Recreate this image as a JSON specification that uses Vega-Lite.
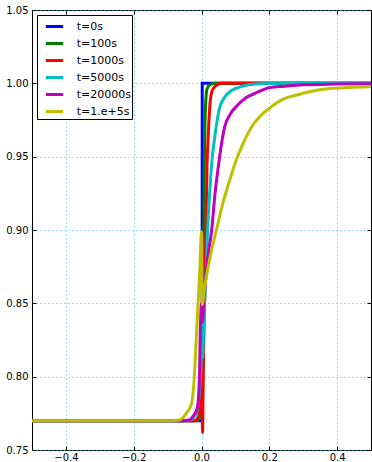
{
  "$schema": "https://vega.github.io/schema/vega-lite/v6.json",
  "autosize": {"type": "none"},
  "padding": {"left": 32, "top": 10, "right": 1, "bottom": 12},
  "width": 339,
  "height": 440,
  "background": "white",
  "config": {
    "font": "DejaVu Sans",
    "view": {"stroke": "black", "strokeWidth": 1},
    "axis": {
      "domain": false,
      "grid": true,
      "gridColor": "#33cccc",
      "gridDash": [1, 3],
      "gridWidth": 1,
      "gridOpacity": 1,
      "tickColor": "black",
      "tickSize": -4,
      "tickWidth": 1,
      "labelFont": "DejaVu Sans",
      "labelFontSize": 10,
      "labelColor": "black",
      "title": null
    }
  },
  "data": {"values": [
    {"s":"t=0s","i":0,"x":-0.5,"y":0.77},{"s":"t=0s","i":1,"x":0.0019,"y":0.77},{"s":"t=0s","i":2,"x":0.0021,"y":1.0},{"s":"t=0s","i":3,"x":0.5,"y":1.0},

    {"s":"t=100s","i":0,"x":-0.5,"y":0.77},{"s":"t=100s","i":1,"x":-0.012,"y":0.77},{"s":"t=100s","i":2,"x":-0.005,"y":0.773},{"s":"t=100s","i":3,"x":0.0,"y":0.785},{"s":"t=100s","i":4,"x":0.002,"y":0.78},{"s":"t=100s","i":5,"x":0.004,"y":0.8},{"s":"t=100s","i":6,"x":0.006,"y":0.88},{"s":"t=100s","i":7,"x":0.008,"y":0.94},{"s":"t=100s","i":8,"x":0.01,"y":0.97},{"s":"t=100s","i":9,"x":0.012,"y":0.985},{"s":"t=100s","i":10,"x":0.016,"y":0.996},{"s":"t=100s","i":11,"x":0.025,"y":0.999},{"s":"t=100s","i":12,"x":0.04,"y":1.0},{"s":"t=100s","i":13,"x":0.5,"y":1.0},

    {"s":"t=1000s","i":0,"x":-0.5,"y":0.77},{"s":"t=1000s","i":1,"x":-0.02,"y":0.77},{"s":"t=1000s","i":2,"x":-0.01,"y":0.772},{"s":"t=1000s","i":3,"x":-0.004,"y":0.78},{"s":"t=1000s","i":4,"x":0.0,"y":0.795},{"s":"t=1000s","i":5,"x":0.002,"y":0.813},{"s":"t=1000s","i":6,"x":0.003,"y":0.762},{"s":"t=1000s","i":7,"x":0.005,"y":0.8},{"s":"t=1000s","i":8,"x":0.008,"y":0.84},{"s":"t=1000s","i":9,"x":0.01,"y":0.86},{"s":"t=1000s","i":10,"x":0.012,"y":0.885},{"s":"t=1000s","i":11,"x":0.016,"y":0.942},{"s":"t=1000s","i":12,"x":0.02,"y":0.965},{"s":"t=1000s","i":13,"x":0.024,"y":0.983},{"s":"t=1000s","i":14,"x":0.03,"y":0.994},{"s":"t=1000s","i":15,"x":0.04,"y":0.998},{"s":"t=1000s","i":16,"x":0.06,"y":1.0},{"s":"t=1000s","i":17,"x":0.5,"y":1.0},

    {"s":"t=5000s","i":0,"x":-0.5,"y":0.77},{"s":"t=5000s","i":1,"x":-0.04,"y":0.77},{"s":"t=5000s","i":2,"x":-0.025,"y":0.7715},{"s":"t=5000s","i":3,"x":-0.015,"y":0.775},{"s":"t=5000s","i":4,"x":-0.008,"y":0.785},{"s":"t=5000s","i":5,"x":-0.003,"y":0.8},{"s":"t=5000s","i":6,"x":0.0,"y":0.82},{"s":"t=5000s","i":7,"x":0.001,"y":0.837},{"s":"t=5000s","i":8,"x":0.003,"y":0.813},{"s":"t=5000s","i":9,"x":0.008,"y":0.845},{"s":"t=5000s","i":10,"x":0.012,"y":0.865},{"s":"t=5000s","i":11,"x":0.015,"y":0.88},{"s":"t=5000s","i":12,"x":0.018,"y":0.9},{"s":"t=5000s","i":13,"x":0.024,"y":0.925},{"s":"t=5000s","i":14,"x":0.03,"y":0.945},{"s":"t=5000s","i":15,"x":0.04,"y":0.965},{"s":"t=5000s","i":16,"x":0.053,"y":0.983},{"s":"t=5000s","i":17,"x":0.07,"y":0.991},{"s":"t=5000s","i":18,"x":0.088,"y":0.995},{"s":"t=5000s","i":19,"x":0.12,"y":0.998},{"s":"t=5000s","i":20,"x":0.16,"y":0.9995},{"s":"t=5000s","i":21,"x":0.25,"y":1.0},{"s":"t=5000s","i":22,"x":0.5,"y":1.0},

    {"s":"t=20000s","i":0,"x":-0.5,"y":0.77},{"s":"t=20000s","i":1,"x":-0.06,"y":0.77},{"s":"t=20000s","i":2,"x":-0.035,"y":0.7705},{"s":"t=20000s","i":3,"x":-0.025,"y":0.773},{"s":"t=20000s","i":4,"x":-0.012,"y":0.779},{"s":"t=20000s","i":5,"x":-0.006,"y":0.8},{"s":"t=20000s","i":6,"x":-0.004,"y":0.825},{"s":"t=20000s","i":7,"x":0.0,"y":0.85},{"s":"t=20000s","i":8,"x":0.002,"y":0.837},{"s":"t=20000s","i":9,"x":0.008,"y":0.855},{"s":"t=20000s","i":10,"x":0.018,"y":0.88},{"s":"t=20000s","i":11,"x":0.03,"y":0.9},{"s":"t=20000s","i":12,"x":0.04,"y":0.925},{"s":"t=20000s","i":13,"x":0.05,"y":0.944},{"s":"t=20000s","i":14,"x":0.068,"y":0.97},{"s":"t=20000s","i":15,"x":0.085,"y":0.979},{"s":"t=20000s","i":16,"x":0.106,"y":0.985},{"s":"t=20000s","i":17,"x":0.13,"y":0.99},{"s":"t=20000s","i":18,"x":0.156,"y":0.993},{"s":"t=20000s","i":19,"x":0.2,"y":0.997},{"s":"t=20000s","i":20,"x":0.244,"y":0.998},{"s":"t=20000s","i":21,"x":0.3,"y":0.999},{"s":"t=20000s","i":22,"x":0.4,"y":0.9995},{"s":"t=20000s","i":23,"x":0.5,"y":0.9998},

    {"s":"t=1.e+5s","i":0,"x":-0.5,"y":0.77},{"s":"t=1.e+5s","i":1,"x":-0.09,"y":0.77},{"s":"t=1.e+5s","i":2,"x":-0.065,"y":0.7705},{"s":"t=1.e+5s","i":3,"x":-0.055,"y":0.772},{"s":"t=1.e+5s","i":4,"x":-0.045,"y":0.775},{"s":"t=1.e+5s","i":5,"x":-0.03,"y":0.781},{"s":"t=1.e+5s","i":6,"x":-0.022,"y":0.797},{"s":"t=1.e+5s","i":7,"x":-0.016,"y":0.823},{"s":"t=1.e+5s","i":8,"x":-0.01,"y":0.85},{"s":"t=1.e+5s","i":9,"x":-0.005,"y":0.873},{"s":"t=1.e+5s","i":10,"x":0.0,"y":0.899},{"s":"t=1.e+5s","i":11,"x":0.002,"y":0.849},{"s":"t=1.e+5s","i":12,"x":0.01,"y":0.862},{"s":"t=1.e+5s","i":13,"x":0.024,"y":0.88},{"s":"t=1.e+5s","i":14,"x":0.044,"y":0.9},{"s":"t=1.e+5s","i":15,"x":0.065,"y":0.92},{"s":"t=1.e+5s","i":16,"x":0.082,"y":0.933},{"s":"t=1.e+5s","i":17,"x":0.103,"y":0.948},{"s":"t=1.e+5s","i":18,"x":0.125,"y":0.96},{"s":"t=1.e+5s","i":19,"x":0.147,"y":0.97},{"s":"t=1.e+5s","i":20,"x":0.175,"y":0.978},{"s":"t=1.e+5s","i":21,"x":0.206,"y":0.984},{"s":"t=1.e+5s","i":22,"x":0.244,"y":0.9895},{"s":"t=1.e+5s","i":23,"x":0.28,"y":0.992},{"s":"t=1.e+5s","i":24,"x":0.318,"y":0.9943},{"s":"t=1.e+5s","i":25,"x":0.36,"y":0.996},{"s":"t=1.e+5s","i":26,"x":0.4,"y":0.9967},{"s":"t=1.e+5s","i":27,"x":0.45,"y":0.9973},{"s":"t=1.e+5s","i":28,"x":0.5,"y":0.9977}
  ]},
  "layer": [
    {
      "mark": {"type": "line", "strokeWidth": 3, "clip": true, "interpolate": "monotone"},
      "encoding": {
        "x": {"field": "x", "type": "quantitative",
              "scale": {"domain": [-0.5, 0.5], "nice": false, "zero": false},
              "axis": {"orient": "bottom", "values": [-0.4, -0.2, 0.0, 0.2, 0.4], "format": ".1f", "labelPadding": 6, "labelFlush": false}},
        "y": {"field": "y", "type": "quantitative",
              "scale": {"domain": [0.75, 1.05], "nice": false, "zero": false},
              "axis": {"orient": "left", "values": [0.75, 0.8, 0.85, 0.9, 0.95, 1.0, 1.05], "format": ".2f", "labelPadding": 8, "labelFlush": false}},
        "color": {"field": "s", "type": "nominal",
                  "scale": {"domain": ["t=0s", "t=100s", "t=1000s", "t=5000s", "t=20000s", "t=1.e+5s"],
                            "range": ["#0000ff", "#008000", "#ff0000", "#00bfbf", "#bf00bf", "#bfbf00"]},
                  "legend": {"orient": "none", "legendX": 5, "legendY": 5, "title": null,
                             "symbolType": "stroke", "symbolStrokeWidth": 3, "symbolSize": 300,
                             "symbolOffset": 6,
                             "labelFont": "DejaVu Sans", "labelFontSize": 11, "labelColor": "black",
                             "labelOffset": 11.7, "rowPadding": -0.9, "padding": 1,
                             "strokeColor": "black", "fillColor": "white", "cornerRadius": 0}},
        "order": {"field": "i", "type": "quantitative"}
      }
    },
    {
      "mark": {"type": "line", "opacity": 0},
      "encoding": {
        "x": {"field": "x", "type": "quantitative",
              "axis": {"orient": "top", "values": [-0.4, -0.2, 0.0, 0.2, 0.4], "labels": false, "grid": false}},
        "y": {"field": "y", "type": "quantitative",
              "axis": {"orient": "right", "values": [0.75, 0.8, 0.85, 0.9, 0.95, 1.0, 1.05], "labels": false, "grid": false}},
        "detail": {"field": "s", "type": "nominal"}
      }
    }
  ],
  "resolve": {"axis": {"x": "independent", "y": "independent"}}
}
